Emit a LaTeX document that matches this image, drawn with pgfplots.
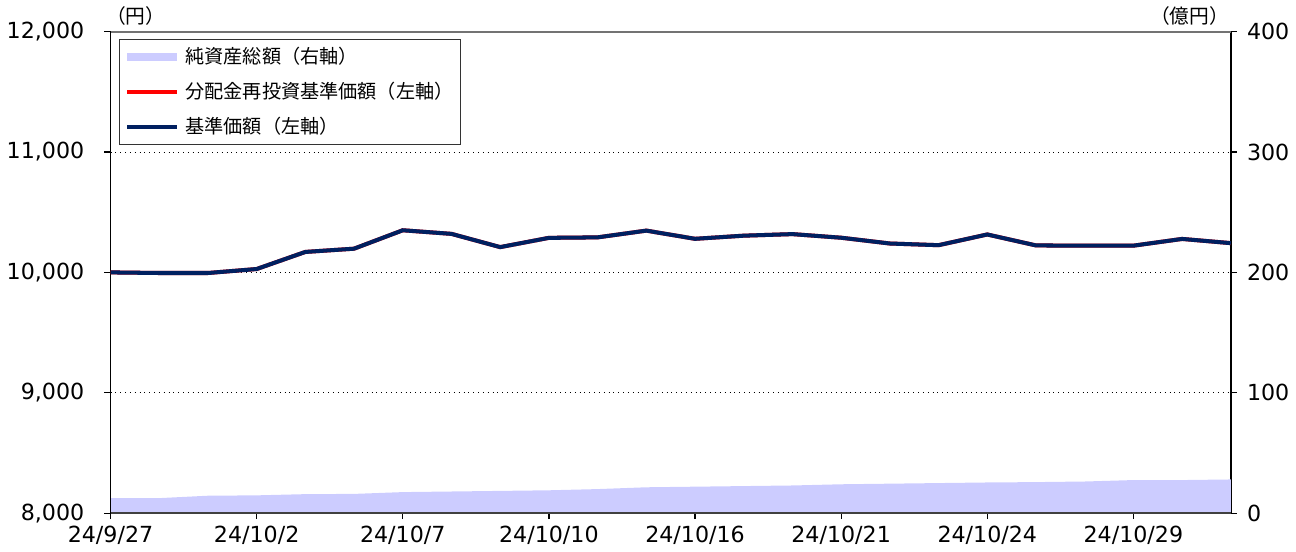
\documentclass[border=0pt]{standalone}
\usepackage{fontspec}
\setmainfont{DejaVu Sans}
\newfontfamily\jp{Noto Sans CJK JP}
\usepackage{pgfplots}
\pgfplotsset{compat=1.18}
\usepackage{pgfplotstable}
\definecolor{areacol}{RGB}{204,204,255}
\definecolor{navycol}{RGB}{0,32,96}
\definecolor{redcol}{RGB}{255,0,0}

\pgfplotstableread{
x nav navr asset
0 10000 10000 12.5
1 9995 9995 12.5
2 9995 9995 14.5
3 10028 10028 14.8
4 10170 10170 15.8
5 10197 10197 16.0
6 10350 10350 17.5
7 10320 10320 18.0
8 10210 10210 18.5
9 10287 10287 19.0
10 10291 10291 20.0
11 10347 10347 21.5
12 10279 10279 22.0
13 10305 10305 22.5
14 10318 10318 23.0
15 10288 10288 24.0
16 10240 10240 24.5
17 10226 10226 25.0
18 10315 10315 25.5
19 10224 10224 25.8
20 10222 10222 26.3
21 10222 10222 27.5
22 10278 10278 27.5
23 10243 10243 28.0
}\datatable

\begin{document}
\begin{tikzpicture}
\pgfplotsset{
  common/.style={
    scale only axis, width=556pt, height=239pt,
    xmin=0, xmax=23,
    tick align=outside,
    major tick length=3pt,
    tick style={black, line width=0.6pt},
    ticklabel style={font=\fontsize{11}{13}\selectfont},
    /pgf/number format/assume math mode=true,
    scaled ticks=false,
  }
}
\begin{axis}[common, name=ra,
  ymin=0, ymax=400,
  axis y line*=right,
  axis x line=none,
  ytick={0,100,200,300,400},
  y axis line style={black, line width=0.8pt},
  yticklabel style={xshift=1.5pt},
]
\addplot[fill=areacol, draw=none] table[x=x, y=asset] {\datatable} \closedcycle;
\end{axis}
\begin{axis}[common, name=la,
  ymin=8000, ymax=12000,
  axis y line*=left,
  axis x line*=bottom,
  ytick={8000,9000,10000,11000,12000},
  yticklabel={\pgfmathprintnumber[fixed, precision=0, 1000 sep={,}]{\tick}},
  ymajorgrids,
  grid style={black, dotted, line width=0.5pt},
  y axis line style={black, line width=0.8pt},
  x axis line style={black!75, line width=1pt},
  xtick={0,3,6,9,12,15,18,21},
  xticklabels={24/9/27,24/10/2,24/10/7,24/10/10,24/10/16,24/10/21,24/10/24,24/10/29},
  yticklabel style={xshift=-6.5pt},
  xticklabel style={yshift=0pt},
  legend style={at={(0.008,0.985)}, anchor=north west,
    draw=black!80, line width=0.5pt,
    font=\jp\fontsize{9.5}{11}\selectfont,
    row sep=3.6pt, inner xsep=1.5pt, inner ysep=2pt,
    nodes={inner xsep=2pt},
    legend cell align=left},
  legend image code/.code={\draw[#1] (0cm,0cm) -- (0.88cm,0cm);},
]
\addlegendimage{areacol, line width=4pt}
\addlegendentry{純資産総額（右軸）}
\addplot[redcol, line width=2pt] table[x=x, y=navr] {\datatable};
\addlegendentry{分配金再投資基準価額（左軸）}
\addplot[navycol, line width=2pt] table[x=x, y=nav] {\datatable};
\addlegendentry{基準価額（左軸）}
\draw[black!55, line width=1pt] (rel axis cs:0,1) -- (rel axis cs:1,1);
\end{axis}
\node[font=\jp\fontsize{9.8}{11}\selectfont, anchor=south] at ([xshift=12.5pt,yshift=-0.5pt]la.north west) {（円）};
\node[font=\jp\fontsize{9.8}{11}\selectfont, anchor=south] at ([xshift=-20.5pt,yshift=-0.5pt]la.north east) {（億円）};
\end{tikzpicture}
\end{document}
